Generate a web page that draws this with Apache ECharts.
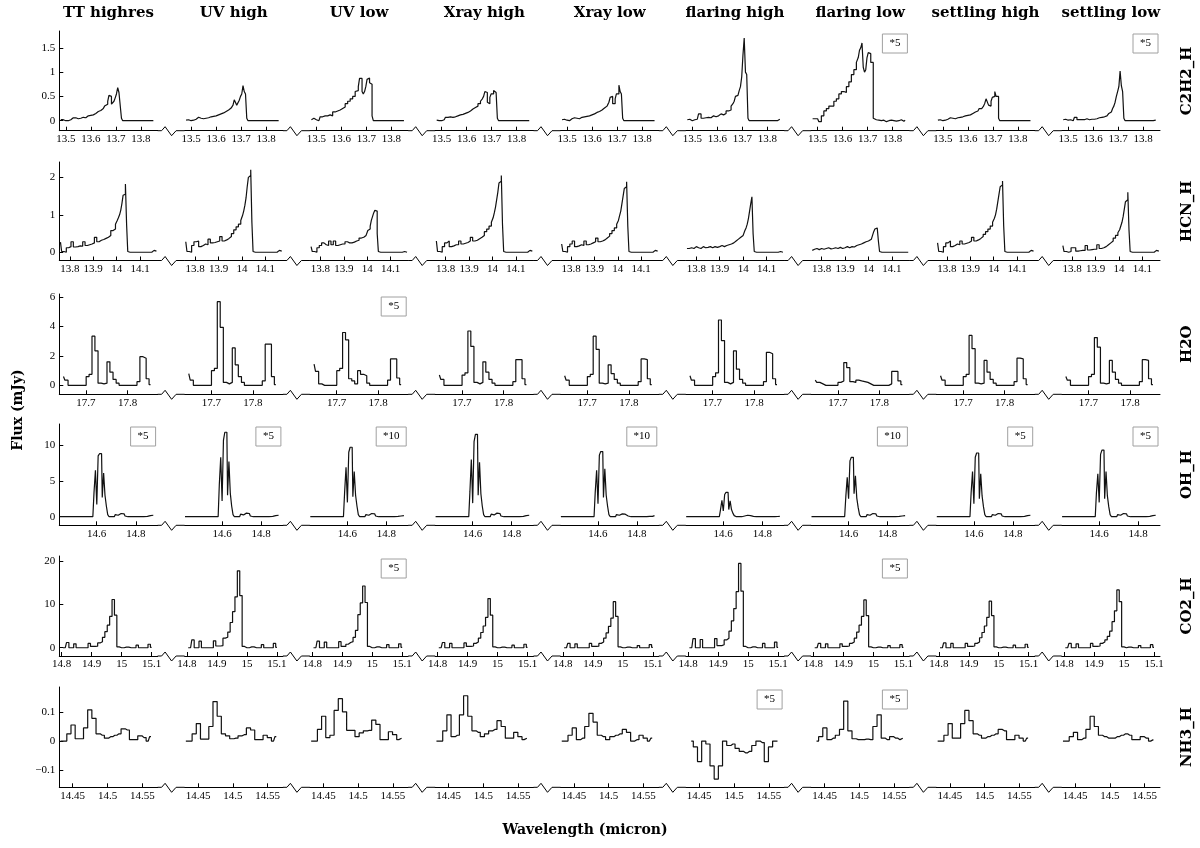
<!DOCTYPE html>
<html>
<head>
<meta charset="utf-8">
<script src="https://cdn.jsdelivr.net/npm/echarts@6/dist/echarts.min.js"></script>
<style>
html, body { margin: 0; padding: 0; background: #fff; }
#chart { width: 1200px; height: 848px; }
</style>
</head>
<body>
<div id="chart"></div>
<script>
// model runs (columns) and molecules (rows)
const models = ['TT highres', 'UV high', 'UV low', 'Xray high', 'Xray low', 'flaring high', 'flaring low', 'settling high', 'settling low'];
const molecules = ['C2H2_H', 'HCN_H', 'H2O', 'OH_H', 'CO2_H', 'NH3_H'];

// ---- C2H2 ----
const waveC2H2 = [13.48,13.49,13.50,13.51,13.52,13.53,13.54,13.55,13.56,13.57,13.58,13.59,13.60,13.61,13.62,13.63,13.64,13.65,13.66,
  13.665,13.67,13.675,13.68,13.685,13.69,13.695,13.70,13.705,13.71,13.715,13.72,13.725,13.73,
  13.74,13.75,13.76,13.77,13.78,13.79,13.80,13.81,13.82,13.83,13.84,13.85];
const fluxC2H2 = [
  [0.02,0.02,0,0,0.02,0.06,0.06,0.04,0.05,0.07,0.06,0.1,0.11,0.12,0.15,0.19,0.21,0.25,0.3, 0.34,0.4,0.52,0.5,0.34,0.33,0.4,0.47,0.55,0.68,0.58,0.57,0.05,0, 0,0,0,0,0,0,0,0,0,0,0,0],
  [0.01,0.02,0,0.01,0.03,0.07,0.05,0.04,0.05,0.06,0.08,0.09,0.1,0.12,0.14,0.16,0.19,0.22,0.26, 0.29,0.32,0.43,0.42,0.32,0.33,0.42,0.5,0.55,0.72,0.6,0.55,0.05,0, 0,0,0,0,0,0,0,0,0,0,0,0],
  [0.02,0.05,0.02,0,0.08,0.1,0.1,0.12,0.1,0.18,0.2,0.22,0.25,0.28,0.35,0.4,0.45,0.5,0.6, 0.62,0.7,0.87,0.87,0.6,0.55,0.6,0.7,0.85,0.88,0.78,0.75,0.1,0, 0,0,0,0,0,0,0,0,0,0,0,0],
  [0.01,0,0,0.02,0.07,0.08,0.07,0.08,0.1,0.12,0.13,0.15,0.17,0.2,0.24,0.27,0.3,0.35,0.4, 0.45,0.5,0.6,0.58,0.38,0.35,0.48,0.55,0.55,0.62,0.58,0.55,0.05,0, 0,0,0,0,0,0,0,0,0,0,0,0],
  [0.02,0.03,0.01,0,0.04,0.06,0.05,0.04,0.07,0.08,0.09,0.1,0.12,0.14,0.17,0.19,0.22,0.26,0.3, 0.33,0.38,0.48,0.5,0.35,0.35,0.45,0.55,0.55,0.73,0.6,0.55,0.05,0, 0,0,0,0,0,0,0,0,0,0,0,0],
  [0.02,0.03,0,0.02,0.03,0.14,0.05,0.06,0.07,0.06,0.1,0.08,0.1,0.14,0.12,0.15,0.2,0.22,0.3, 0.35,0.4,0.5,0.52,0.55,0.62,0.7,0.9,1.35,1.7,1.0,0.95,0.05,0, 0,0,0,0,0,0,0,0,0,0,0,0.03],
  [0.04,0.04,0.04,-0.02,0.1,0.2,0.25,0.3,0.3,0.4,0.45,0.55,0.6,0.58,0.7,0.8,0.95,1.05,1.2, 1.3,1.45,1.5,1.6,1.1,1.0,1.05,1.3,1.4,1.38,1.2,1.2,0.05,0.02, 0.01,0,0.01,-0.02,0,0.01,0,-0.01,0,0.02,-0.01,0.01],
  [0.01,0.02,0,0.01,0.03,0.06,0.05,0.04,0.06,0.07,0.08,0.1,0.11,0.12,0.15,0.18,0.2,0.25,0.28, 0.3,0.36,0.45,0.44,0.32,0.3,0.4,0.48,0.5,0.6,0.5,0.5,0.05,0, 0,0,0,0,0,0,0,0,0,0,0,0],
  [0.02,0.03,0.01,0.02,0,0.07,0.02,0.02,0.02,0.04,0.02,0.03,0.03,0.04,0.06,0.07,0.08,0.1,0.14, 0.15,0.18,0.22,0.25,0.3,0.38,0.5,0.6,0.7,1.02,0.72,0.6,0.05,0, 0,0,0,0,0,0,0,0,0,0,0,0.01]
];

// ---- HCN ----
const waveHCN = [13.76,13.77,13.78,13.79,13.80,13.81,13.82,13.83,13.84,13.85,13.86,13.87,13.88,13.89,13.90,13.91,13.92,13.93,13.94,13.95,13.96,13.97,13.98,13.99,
  14.00,14.005,14.01,14.015,14.02,14.025,14.03,14.035,14.04,14.045,14.05,14.055,14.06,
  14.07,14.08,14.09,14.10,14.11,14.12,14.13,14.14,14.15,14.16,14.17];
const fluxHCN = [
  [0.27,0.02,0,0.12,0.15,0.28,0.14,0.15,0.17,0.16,0.28,0.18,0.2,0.22,0.25,0.4,0.28,0.32,0.34,0.37,0.4,0.45,0.58,0.62, 0.75,0.85,0.92,1.0,1.12,1.3,1.52,1.55,1.82,0.75,0.02,0,0, 0,0,0,0,0,0,0,0,0,0.05,0.03],
  [0.28,0.02,0,0.18,0.28,0.3,0.15,0.18,0.22,0.2,0.35,0.25,0.26,0.28,0.3,0.42,0.3,0.33,0.37,0.42,0.5,0.6,0.68,0.75, 0.85,0.98,1.1,1.25,1.45,1.75,2.0,2.05,2.2,0.8,0.02,0,0, 0,0,0,0,0,0,0,0,0,0.05,0.03],
  [0.15,0.02,0,0.12,0.18,0.25,0.2,0.18,0.3,0.2,0.3,0.18,0.2,0.22,0.22,0.28,0.25,0.25,0.27,0.3,0.32,0.38,0.4,0.45, 0.5,0.58,0.62,0.7,0.85,0.95,1.05,1.12,1.1,0.5,0.02,0,0, 0,0,0,0,0,0,0,0,0,0.02,0],
  [0.3,0.02,0,0.15,0.25,0.3,0.15,0.17,0.2,0.2,0.3,0.22,0.24,0.26,0.3,0.4,0.3,0.32,0.36,0.4,0.45,0.55,0.62,0.7, 0.8,0.92,1.05,1.2,1.4,1.6,1.85,1.9,2.05,0.75,0.02,0,0, 0,0,0,0,0,0,0,0,0,0.05,0.03],
  [0.22,0.02,0,0.15,0.22,0.3,0.15,0.17,0.2,0.18,0.3,0.2,0.22,0.25,0.28,0.38,0.28,0.3,0.33,0.38,0.43,0.5,0.58,0.65, 0.75,0.85,0.98,1.1,1.3,1.5,1.7,1.75,1.88,0.7,0.02,0,0, 0,0,0,0,0,0,0,0,0,0.05,0.03],
  [0.1,0.1,0.12,0.1,0.15,0.12,0.1,0.15,0.12,0.13,0.15,0.12,0.15,0.13,0.15,0.18,0.15,0.18,0.2,0.22,0.25,0.3,0.35,0.4, 0.45,0.5,0.58,0.65,0.75,0.9,1.1,1.3,1.48,0.5,0.02,0,0, 0,0,0,0,0,0,0,0,0,0.02,0],
  [0.05,0.08,0.1,0.07,0.1,0.08,0.1,0.12,0.09,0.1,0.12,0.1,0.13,0.1,0.12,0.15,0.12,0.15,0.14,0.18,0.2,0.22,0.25,0.28, 0.3,0.32,0.35,0.4,0.45,0.55,0.62,0.65,0.68,0.3,0.02,0,0, 0,0,0,0,0,0,0,0,0,0,0],
  [0.25,0.02,0,0.15,0.25,0.3,0.15,0.18,0.22,0.2,0.3,0.22,0.24,0.26,0.3,0.4,0.3,0.33,0.37,0.42,0.48,0.55,0.62,0.7, 0.8,0.9,1.0,1.15,1.35,1.55,1.75,1.8,1.9,0.7,0.02,0,0, 0,0,0,0,0,0,0,0,0,0.05,0.03],
  [0.18,0.02,0,0.02,0.12,0.12,0.03,0.04,0.05,0.05,0.18,0.06,0.07,0.08,0.08,0.2,0.1,0.12,0.15,0.2,0.25,0.3,0.38,0.45, 0.52,0.6,0.7,0.8,0.95,1.15,1.35,1.4,1.6,0.6,0.02,0,0, 0,0,0,0,0,0,0,0,0,0.05,0.03]
];

// ---- H2O ----
const waveH2O = [17.646,17.653,17.661,17.668,17.675,17.682,17.689,17.697,17.704,17.711,17.718,17.725,17.733,17.740,17.747,
  17.754,17.761,17.769,17.776,17.783,17.790,17.797,17.805,17.812,17.819,17.826,17.833,17.841,17.848,17.855];
const fluxH2O = [
  [0.6,0.35,0,0,0,0,0,0,0.6,0.75,3.35,2.35,0.15,0.1,0.15,1.6,0.9,0.4,0.15,0,0,0,0,0,0,0.25,1.95,1.85,0.45,0.05],
  [0.8,0.35,0,0,0,0,0,0,1.0,1.15,5.7,3.95,0.2,0.1,0.2,2.55,1.4,0.6,0.2,0,0,0,0,0,0,0.3,2.8,2.8,0.6,0.05],
  [1.45,0.95,0.1,0,0,0,0,0,1.0,1.15,3.6,3.1,0.45,0.3,0.1,1.0,0.75,0.65,0.15,0,0,0,0,0,0,0.35,1.8,1.8,0.5,0.05],
  [0.7,0.4,0,0,0,0,0,0,0.7,0.85,3.7,2.65,0.2,0.1,0.2,1.6,0.9,0.4,0.15,0,0,0,0,0,0,0.25,1.75,1.75,0.45,0.05],
  [0.65,0.35,0,0,0,0,0,0,0.6,0.75,3.35,2.45,0.15,0.1,0.15,1.4,0.8,0.4,0.15,0,0,0,0,0,0,0.25,1.8,1.75,0.45,0.05],
  [0.65,0.35,0,0,0,0,0,0,0.6,0.85,4.45,3.05,0.2,0.1,0.2,2.35,1.1,0.4,0.15,0,0,0,0,0,0,0.25,2.25,2.15,0.45,0.05],
  [0.35,0.2,0.1,0,0,0,0,0,0.2,0.3,1.55,1.2,0.25,0.2,0.35,0.3,0.25,0.2,0.1,0,0,0,0,0,0,0.1,0.95,0.95,0.3,0.05],
  [0.65,0.35,0,0,0,0,0,0,0.6,0.75,3.4,2.5,0.15,0.1,0.15,1.7,0.9,0.4,0.15,0,0,0,0,0,0,0.25,1.85,1.8,0.45,0.05],
  [0.6,0.35,0,0,0,0,0,0,0.6,0.75,3.25,2.6,0.15,0.1,0.15,1.7,0.9,0.4,0.15,0,0,0,0,0,0,0.25,1.75,1.7,0.45,0.05]
];

// ---- OH ----
const waveOH = [14.41,14.44,14.47,14.50,14.53,14.56,14.58,14.584,
  14.588,14.5915,14.595,14.5985,14.602,14.6055,14.609,14.6125,14.616,14.6195,14.623,14.6265,14.630,14.6335,14.637,14.6405,14.644,14.6475,14.651,14.6545,14.658,14.6615,14.665,
  14.67,14.68,14.69,14.70,14.71,14.72,14.73,14.74,14.75,14.76,14.78,14.80,14.82,14.84,14.86,14.87,14.88,14.89];
const fluxOH = [
  [0,0,0,0,0,0,0,0, 3.4,3.4,6.5,6.5,1.7,1.7,8.5,8.5,8.8,8.8,8.8,8.8,2.7,2.7,6.1,6.1,3.0,3.0,1.5,1.5,0.3,0.1,0, 0,0,0,0.3,0.2,0.45,0.35,0.4,0.1,0,0,0,0,0,0.05,0.15,0.1,0.2],
  [0,0,0,0,0,0,0,0, 4.5,4.5,8.3,8.3,2.2,2.2,10.7,10.7,11.8,11.8,11.8,11.8,3.0,3.0,7.7,7.7,3.3,3.3,1.5,1.5,0.3,0.1,0, 0,0,0,0.35,0.25,0.5,0.4,0.45,0.1,0,0,0,0,0,0.05,0.15,0.1,0.2],
  [0,0,0,0,0,0,0,0, 3.4,3.4,6.9,6.9,2.0,2.0,9.0,9.0,9.7,9.7,9.7,9.7,2.8,2.8,6.3,6.3,3.0,3.0,1.5,1.5,0.3,0.1,0, 0,0,0,0.3,0.2,0.45,0.35,0.4,0.1,0,0,0,0,0,0.05,0.1,0.05,0.15],
  [0,0,0,0,0,0,0,0, 3.5,3.5,8.0,8.0,1.9,1.9,10.5,10.5,11.5,11.5,11.5,11.5,3.0,3.0,7.6,7.6,3.2,3.2,1.5,1.5,0.3,0.1,0, 0,0,0,0.35,0.25,0.5,0.4,0.45,0.1,0,0,0,0,0,0.05,0.15,0.1,0.2],
  [0,0,0,0,0,0,0,0, 3.4,3.4,6.5,6.5,1.8,1.8,8.6,8.6,9.1,9.1,9.1,9.1,2.7,2.7,6.7,6.7,3.0,3.0,1.5,1.5,0.3,0.1,0, 0,0,0,0.3,0.2,0.4,0.3,0.35,0.1,0,0,0,0,0,0.05,0.1,0.05,0.15],
  [0,0,0,0,0,0,0,0, 1.0,1.0,2.3,2.3,0.8,0.8,3.1,3.1,3.4,3.4,3.4,3.4,1.0,1.0,2.2,2.2,1.0,1.0,0.5,0.5,0.15,0.05,0, 0,0,0,0.15,0.1,0.2,0.15,0.15,0.05,0,0,0,0,0,0.02,0.05,0.03,0.05],
  [0,0,0,0,0,0,0,0, 2.8,2.8,5.5,5.5,2.5,2.5,7.8,7.8,8.3,8.3,8.3,8.3,3.2,3.2,5.7,5.7,2.6,2.6,1.3,1.3,0.3,0.1,0, 0,0,0,0.3,0.2,0.45,0.35,0.4,0.1,0,0,0,0,0,0.05,0.1,0.05,0.15],
  [0,0,0,0,0,0,0,0, 3.3,3.3,6.3,6.3,1.8,1.8,8.3,8.3,8.9,8.9,8.9,8.9,2.5,2.5,6.0,6.0,2.9,2.9,1.4,1.4,0.3,0.1,0, 0,0,0,0.3,0.2,0.45,0.35,0.4,0.1,0,0,0,0,0,0.05,0.15,0.1,0.2],
  [0,0,0,0,0,0,0,0, 3.3,3.3,6.0,6.0,2.0,2.0,8.7,8.7,9.3,9.3,9.3,9.3,2.5,2.5,6.3,6.3,2.9,2.9,1.4,1.4,0.3,0.1,0, 0,0,0,0.3,0.2,0.45,0.35,0.4,0.1,0,0,0,0,0,0.05,0.15,0.1,0.2]
];

// ---- CO2 ----
const waveCO2 = [14.804,14.812,14.820,14.828,14.836,14.844,14.852,14.860,14.868,14.876,14.884,14.892,14.900,14.908,14.916,14.924,14.932,14.940,14.948,
  14.956,14.964,14.972,14.980,14.988,14.996,15.004,15.012,15.020,15.028,15.036,15.044,15.052,15.060,15.068,15.076,15.084,15.092,15.100];
const fluxCO2 = [
  [0,0,1.2,0,0,0.9,0,0,0,0,0,1.0,0.3,0.3,0.35,1.1,1.4,2.4,3.7,5.2,7.2,11.1,7.5,0.2,0,0,0.15,0.15,0,0,0,0.6,0,0,0,0,0.8,0.1],
  [0,0,1.8,0,0,1.5,0,0,0,0,0,1.6,0.4,0.4,0.5,2.2,2.4,3.6,5.8,8.3,11.7,17.7,12.0,0.3,0,0,0.2,0.2,0,0,0,0.7,0,0,0,0,1.0,0.1],
  [0,0,1.5,0,0,1.3,0,0,0,0,0,1.4,0.3,0.3,0.8,1.2,1.4,2.4,4.0,7.6,10.3,14.2,10.4,0.3,0,0,0.2,0.2,0,0,0,0.7,0,0,0,0,0.9,0.1],
  [0,0,1.2,0,0,1.0,0,0,0,0,0,1.1,0.3,0.3,0.4,1.0,1.3,2.2,3.5,5.0,7.0,11.3,7.5,0.2,0,0,0.15,0.15,0,0,0,0.6,0,0,0,0,0.8,0.1],
  [0,0,1.0,0,0,0.9,0,0,0,0,0,1.0,0.3,0.3,0.35,1.0,1.3,2.2,3.4,4.9,6.8,10.6,7.2,0.2,0,0,0.15,0.15,0,0,0,0.5,0,0,0,0,0.7,0.1],
  [0,0,2.1,0,0,1.9,0,0,0,0,0,2.1,0.5,0.5,0.7,1.8,2.2,3.8,6.2,9.0,12.9,19.4,13.0,0.3,0,0,0.2,0.2,0,0,0,1.0,0,0,0,0,1.3,0.1],
  [0,0,1.0,0,0,0.9,0,0,0,0,0,0.9,0.3,0.3,0.4,1.0,1.3,2.2,3.6,5.2,7.2,11.0,7.4,0.2,0,0,0.15,0.15,0,0,0,0.5,0,0,0,0,0.7,0.1],
  [0,0,1.1,0,0,1.0,0,0,0,0,0,1.0,0.3,0.3,0.4,1.0,1.3,2.3,3.5,5.0,7.0,10.7,7.4,0.2,0,0,0.15,0.15,0,0,0,0.6,0,0,0,0,0.8,0.1],
  [0,0,1.0,0,0,0.9,0,0,0,0,0,1.0,0.3,0.3,0.4,1.0,1.3,1.8,2.6,3.8,6.0,8.5,13.3,10.6,0.2,0,0.15,0.15,0,0,0,0.5,0,0,0,0,0.7,0.1]
];

// ---- NH3 ----
const waveNH3 = [14.4325,14.4385,14.4445,14.4505,14.4565,14.4625,14.4685,14.4745,14.4805,14.4865,14.4925,14.4985,
  14.5045,14.5105,14.5165,14.5225,14.5285,14.5345,14.5405,14.5465,14.5525,14.5585,14.5625];
const fluxNH3 = [
  [0,0,0.025,0.055,0.008,0.008,0.045,0.107,0.078,0.025,0.02,0.01,0.015,0.02,0.025,0.042,0.038,0.005,0.005,0.018,0.012,0,0.015],
  [0,0,0.025,0.06,0.007,0.007,0.05,0.135,0.085,0.025,0.018,0.008,0.01,0.018,0.022,0.045,0.038,0.005,0.005,0.02,0.012,0,0.015],
  [0,0,0.04,0.085,0.012,0.02,0.105,0.145,0.1,0.037,0.037,0.015,0.028,0.035,0.037,0.072,0.057,0.005,0.005,0.032,0.022,0.005,0.01],
  [0,0,0.035,0.09,0.015,0.02,0.09,0.155,0.085,0.035,0.03,0.015,0.025,0.035,0.04,0.07,0.05,0.01,0.01,0.03,0.015,0.005,0.01],
  [0,0,0.02,0.045,0.005,0.01,0.05,0.095,0.065,0.02,0.015,0.005,0.015,0.02,0.025,0.04,0.03,0,0.005,0.02,0.01,0,0.01],
  [null,0,-0.02,-0.07,0,-0.01,-0.085,-0.13,-0.085,0,-0.015,-0.01,-0.025,-0.035,-0.04,-0.035,-0.015,0,-0.005,-0.07,-0.02,0,0],
  [null,0,0.015,0.045,0.005,0.01,0.02,0.04,0.137,0.035,0.008,0.005,0.005,0.007,0.005,0.05,0.09,0.01,0.005,0.015,0.01,0.005,0.01],
  [0,0,0.02,0.06,0.01,0.01,0.06,0.105,0.07,0.025,0.02,0.01,0.015,0.02,0.025,0.04,0.035,0.005,0.005,0.02,0.01,0,0.01],
  [0,0,0.015,0.03,0.005,0.01,0.04,0.085,0.05,0.02,0.015,0.01,0.01,0.015,0.02,0.025,0.02,0.005,0.005,0.015,0.01,0,0.005]
];

// tick labels per row
const xTicks = [[13.5,13.6,13.7,13.8],[13.8,13.9,14,14.1],[17.7,17.8],[14.6,14.8],[14.8,14.9,15,15.1],[14.45,14.5,14.55]];
const yTicks = [[0,0.5,1,1.5],[0,1,2],[0,2,4,6],[0,5,10],[0,10,20],[-0.1,0,0.1]];
const xRange = [[13.474,13.867],[13.755,14.175],[17.636,17.872],[14.408,14.912],[14.792,15.12],[14.4307,14.572]];
const yRange = [[-0.206,1.846],[-0.22,2.41],[-0.61,6.22],[-1.2,12.95],[-1.9,21.1],[-0.158,0.185]];

// scale factor notes: [row, column, text]
const scaleNotes = [[0,6,'*5'],[0,8,'*5'],[2,2,'*5'],
  [3,0,'*5'],[3,1,'*5'],[3,2,'*10'],[3,4,'*10'],[3,6,'*10'],[3,7,'*5'],[3,8,'*5'],
  [4,2,'*5'],[4,6,'*5'],[5,5,'*5'],[5,6,'*5']];

const waves = [waveC2H2, waveHCN, waveH2O, waveOH, waveCO2, waveNH3];
const fluxes = [fluxC2H2, fluxHCN, fluxH2O, fluxOH, fluxCO2, fluxNH3];

// layout
const left0 = 59.3, pitch = 125.3, panelW = 98.3;
const rowTop = [31, 162, 294, 424, 556, 687];
const rowBottom = [130.7, 260.5, 394.3, 525.3, 656, 787.3];
const tickFont = 'Liberation Serif';
const boldFont = 'bold 15px "DejaVu Serif"';

const fmt = v => (v < 0 ? '\u2212' + (-v) : String(v));

const grid = [], xAxis = [], yAxis = [], series = [], graphic = [];

for (let r = 0; r < 6; r++) {
  for (let c = 0; c < 9; c++) {
    const k = r * 9 + c;
    const left = left0 + pitch * c;
    grid.push({ left: left, top: rowTop[r], width: panelW, height: rowBottom[r] - rowTop[r], outerBoundsMode: 'none' });
    xAxis.push({
      type: 'value', gridIndex: k, min: xRange[r][0], max: xRange[r][1],
      axisLine: { show: true, onZero: false, lineStyle: { color: '#000', width: 1 } },
      axisTick: { show: true, inside: true, length: 4, customValues: xTicks[r], lineStyle: { color: '#000' } },
      axisLabel: { customValues: xTicks[r], formatter: fmt, margin: 3, fontSize: 11, fontFamily: tickFont, color: '#000' },
      splitLine: { show: false }
    });
    if (c === 0) {
      yAxis.push({
        type: 'value', gridIndex: k, min: yRange[r][0], max: yRange[r][1],
        axisLine: { show: true, onZero: false, lineStyle: { color: '#000', width: 1 } },
        axisTick: { show: true, inside: true, length: 4, customValues: yTicks[r], lineStyle: { color: '#000' } },
        axisLabel: { customValues: yTicks[r], formatter: fmt, margin: 4, fontSize: 11, fontFamily: tickFont, color: '#000' },
        splitLine: { show: false }
      });
    } else {
      yAxis.push({ type: 'value', gridIndex: k, min: yRange[r][0], max: yRange[r][1], show: false });
    }
    const xs = waves[r], ys = fluxes[r][c];
    series.push({
      type: 'line', xAxisIndex: k, yAxisIndex: k, step: 'middle',
      symbol: 'none', showSymbol: false, silent: true,
      lineStyle: { color: '#111', width: 1.2 },
      data: ys.map((v, i) => [xs[i], v]).filter(p => p[1] !== null)
    });
    // break mark on the axis line towards the next panel
    if (c < 8) {
      const x0 = left + panelW, x1 = left0 + pitch * (c + 1), y = rowBottom[r];
      graphic.push({
        type: 'polyline', silent: true, z: 50,
        shape: { points: [[x0, y], [x0 + 4, y], [x0 + 7.5, y - 4], [x0 + 14, y + 5], [x0 + 18.5, y], [x1, y]] },
        style: { stroke: '#000', lineWidth: 1, fill: null }
      });
    }
  }
  // molecule label on the right
  graphic.push({
    type: 'text', x: 1187, y: (rowTop[r] + rowBottom[r]) / 2, rotation: Math.PI / 2, silent: true,
    style: { text: molecules[r], font: boldFont, fill: '#000', align: 'center', verticalAlign: 'middle', textAlign: 'center', textVerticalAlign: 'middle' }
  });
}

// column titles
models.forEach((m, c) => {
  graphic.push({
    type: 'text', x: left0 + pitch * c + panelW / 2, y: 13, silent: true,
    style: { text: m, font: boldFont, fill: '#000', align: 'center', verticalAlign: 'middle', textAlign: 'center', textVerticalAlign: 'middle' }
  });
});

// scale factor boxes
scaleNotes.forEach(([r, c, t]) => {
  const w = t.length > 2 ? 30 : 25, h = 19;
  const right = left0 + pitch * c + panelW - 2;
  const top = rowTop[r] + 3;
  graphic.push({
    type: 'rect', silent: true, z: 60,
    shape: { x: right - w, y: top, width: w, height: h },
    style: { fill: '#fff', stroke: '#a0a0a0', lineWidth: 1 }
  });
  graphic.push({
    type: 'text', silent: true, z: 61, x: right - w / 2, y: top + h / 2,
    style: { text: t, font: '11px "Liberation Serif"', fill: '#000', align: 'center', verticalAlign: 'middle', textAlign: 'center', textVerticalAlign: 'middle' }
  });
});

// axis names
graphic.push({
  type: 'text', x: 18, y: 410, rotation: Math.PI / 2, silent: true,
  style: { text: 'Flux (mJy)', font: 'bold 14px "DejaVu Serif"', fill: '#000', align: 'center', verticalAlign: 'middle', textAlign: 'center', textVerticalAlign: 'middle' }
});
graphic.push({
  type: 'text', x: 585, y: 830, silent: true,
  style: { text: 'Wavelength (micron)', font: 'bold 14px "DejaVu Serif"', fill: '#000', align: 'center', verticalAlign: 'middle', textAlign: 'center', textVerticalAlign: 'middle' }
});

const chart = echarts.init(document.getElementById('chart'));
chart.setOption({
  backgroundColor: '#fff',
  animation: false,
  grid: grid,
  xAxis: xAxis,
  yAxis: yAxis,
  series: series,
  graphic: graphic
});
window.addEventListener('resize', function () { chart.resize(); });
</script>
</body>
</html>
